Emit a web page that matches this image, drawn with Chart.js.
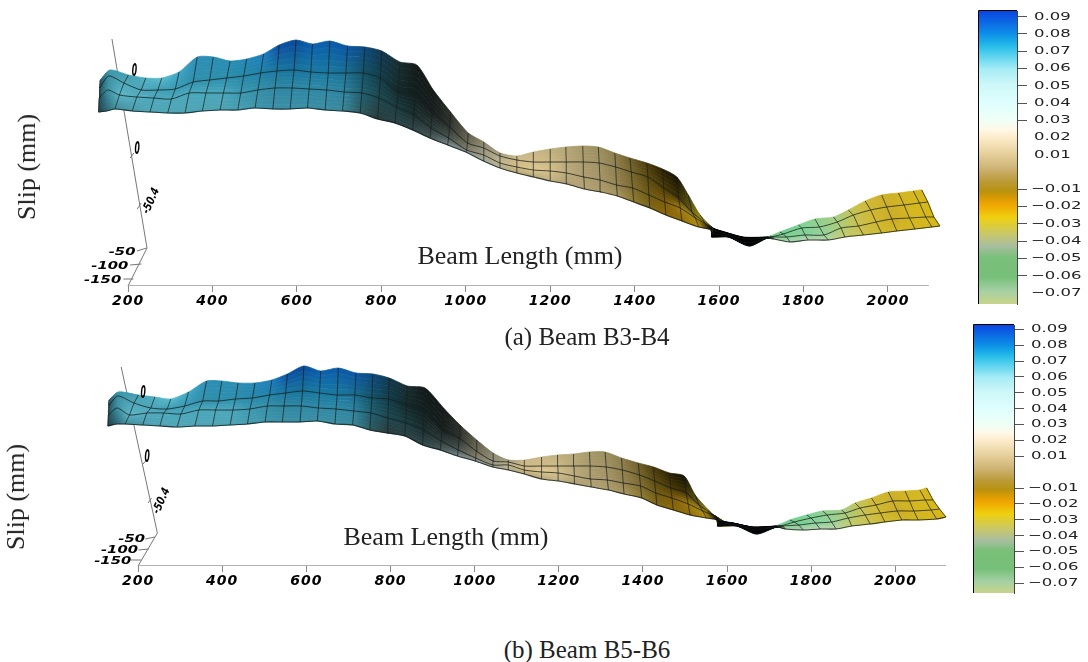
<!DOCTYPE html>
<html>
<head>
<meta charset="utf-8">
<script src="https://cdn.jsdelivr.net/npm/chart.js@4"></script>
<style>
  html, body { margin: 0; padding: 0; background: #fff; }
  body { position: relative; width: 1088px; height: 662px; overflow: hidden; }
  .box { position: absolute; }
  .label { position: absolute; font-family: "Liberation Serif", serif; color: #222; white-space: nowrap; transform: translate(-50%, -50%); }
  .slip { transform: translate(-50%, -50%) rotate(-90deg); }
</style>
</head>
<body>
<div class="box" style="left:0;top:0;width:960px;height:320px"><canvas id="surface-a"></canvas></div>
<div class="box" style="left:0;top:320px;width:960px;height:280px"><canvas id="surface-b"></canvas></div>
<div class="box" style="left:975px;top:0;width:113px;height:320px"><canvas id="bar-a"></canvas></div>
<div class="box" style="left:970px;top:320px;width:118px;height:280px"><canvas id="bar-b"></canvas></div>
<div class="label slip" style="left:27px;top:167px;font-size:26px">Slip (mm)</div>
<div class="label slip" style="left:16px;top:497px;font-size:26px">Slip (mm)</div>
<div class="label" style="left:520px;top:256px;font-size:26px">Beam Length (mm)</div>
<div class="label" style="left:446px;top:537px;font-size:26px">Beam Length (mm)</div>
<div class="label" style="left:587px;top:337px;font-size:25px">(a) Beam B3-B4</div>
<div class="label" style="left:587px;top:650px;font-size:25px">(b) Beam B5-B6</div>
<script>
const xTicks = [200, 400, 600, 800, 1000, 1200, 1400, 1600, 1800, 2000]
const depthLabels = ["-50", "-100", "-150"]
const slipLabels = ["0", "0", "-50.4"]
const barTicks = [0.09, 0.08, 0.07, 0.06, 0.05, 0.04, 0.03, 0.02, 0.01, -0.01, -0.02, -0.03, -0.04, -0.05, -0.06, -0.07]
const barTicksUnmarkedA = [0.02, 0.01, -0.07]

// beam length at the near and far end of every mesh column, panel a
const nearA = [130,149,169,210,252,294,335,376,418,460,501,543,584,625,667,708,750,791,832,874,915,957,1000,1042,1081,1121,1160,1200,1239,1281,1320,1359,1398,1436,1474,1512,1552,1591,1582,1622,1672,1714,1729,1768,1811,1859,1898,1942,1985,2021,2064,2104,2123]
const farA = [134,157,201,242,280,321,364,402,442,481,521,558,598,637,678,720,761,801,844,884,923,964,1006,1043,1081,1121,1160,1200,1237,1277,1314,1353,1389,1429,1466,1500,1527,1555,1586,1614,1657,1713,1721,1744,1788,1827,1871,1906,1946,1985,2025,2060,2080]
// projected surface height along the four mesh rows, panel a
const bottomA = [174,175,177,175,174,173,173,175,176,176,178,177,177,178,176,175,173,167,163,156,148,141,134,125,118,113,109,105,102,97,94,90,84,78,71,65,59,55,49,49,40,48,47,44,46,46,49,51,53,55,57,59,60]
const lowA = [188,196,191,189,188,187,193,193,193,193,196,198,198,197,196,194,193,188,179,171,158,148,136,131,123,119,116,115,113,109,106,101,98,91,84,78,68,59,53,50,43,48,49,49,51,51,58,60,64,67,68,69,69]
const upA = [198,210,203,196,196,197,204,206,208,210,213,215,216,214,213,213,213,208,194,191,174,159,143,138,130,126,124,124,124,124,123,119,114,109,98,88,74,63,56,52,47,48,49,52,58,59,64,71,76,79,81,83,84]
const topA = [206,216,211,208,208,214,229,229,225,227,232,241,246,242,245,240,239,235,224,221,196,174,153,144,133,130,134,137,139,140,139,133,128,123,117,109,91,71,58,54,49,49,50,54,61,67,69,76,85,91,93,95,96]

// the same readings for panel b
const nearB = [128,149,169,211,252,293,335,377,419,460,502,543,585,626,668,710,751,792,834,876,918,959,1001,1043,1080,1118,1159,1199,1238,1277,1318,1355,1397,1433,1472,1512,1551,1591,1577,1623,1670,1718,1738,1781,1821,1859,1896,1940,1975,2015,2054,2098,2120]
const farB = [131,153,201,240,278,320,363,399,438,478,518,555,594,634,676,718,758,797,840,882,926,965,1005,1044,1080,1118,1159,1197,1235,1273,1310,1349,1389,1425,1463,1498,1524,1555,1579,1615,1662,1714,1722,1749,1789,1827,1872,1904,1943,1983,2023,2058,2074]
const bottomB = [140,142,142,141,140,139,140,140,141,142,144,144,144,145,142,141,136,133,130,121,116,110,105,99,96,92,87,85,82,79,76,72,68,61,56,51,48,45,40,40,32,39,37,36,37,37,40,42,44,46,46,47,49]
const lowB = [151,158,151,153,153,152,156,156,156,157,160,160,160,158,157,155,153,148,143,136,125,116,108,101,101,96,94,93,90,87,86,83,80,73,68,62,55,48,42,41,36,39,40,41,43,44,48,51,53,55,55,56,57]
const upB = [160,170,163,158,157,160,165,165,167,168,171,173,175,173,171,171,168,167,161,155,136,128,115,105,104,100,100,100,100,100,99,96,91,85,78,73,61,51,44,42,38,39,40,44,48,51,53,58,61,65,65,66,66]
const topB = [166,174,171,169,167,174,185,185,183,183,186,192,200,195,198,193,192,188,180,178,158,141,126,113,106,106,109,111,112,114,114,108,103,99,93,90,71,56,46,43,39,40,41,46,51,55,56,63,68,74,75,76,78]

// shaded surface colour per column, along the four mesh rows
const bottomColors = ["#1f3c46","#2f6573","#3f8a99","#4a9aaa","#50a5b5","#50a5b5","#50a5b5","#4ea3b3","#4ea3b3","#4a9fb0","#3f96ab","#3b8fa5","#3b8fa5","#3b8fa5","#3b8da2","#3a8799","#2f5a62","#2a3b3a","#2a4245","#2f4648","#465656","#76888a","#8a9a98","#a0a89a","#b0ad90","#b5a677","#b5a677","#c2b184","#ad9e72","#b2a274","#ac9a68","#a8965c","#8f7a30","#7e6614","#8a6608","#8e6a08","#b89010","#d4b020","#000000","#000000","#000000","#000000","#a5c8a0","#b5d0b0","#b9d4b2","#bcd3a0","#c4cc6c","#ccc24a","#cfb92f","#d3b622","#d3b51c","#d4b61a","#d6b818"]
const lowColors = ["#1a4a58","#3a8fa0","#5bb5c5","#52aec0","#4aa8bc","#4aa8bc","#4aa8bc","#4aa8bc","#4aa8bc","#3a98b0","#3490a8","#3088a2","#2e88a5","#2e88a5","#2e88a5","#2e84a0","#1f5f70","#1d4850","#1a3c40","#1a2e2e","#2a3a38","#46524e","#807c68","#a09a80","#c0b58c","#d3bc85","#dcc68c","#d4bf8a","#bcab7a","#ad9d70","#a59568","#958453","#7e6c30","#6e5a14","#7b5a06","#a07c10","#a0860e","#c8a81a","#000000","#000000","#000000","#000000","#8ad59a","#7ccf90","#84d098","#95d29b","#b0cb70","#c8c050","#d1b72c","#c9ab26","#d3b520","#d6b81a","#d6b81a"]
const upColors = ["#1a4a58","#3a8fa0","#4fa8ba","#4aa4b8","#3fa0b5","#3a9bb2","#2f90ac","#2f90ac","#2c8eab","#2688a8","#1f82a8","#1a78a0","#17739c","#1a7aa0","#1a7aa0","#1a6f90","#145468","#123e4a","#13292c","#111e1e","#161d1c","#2a302c","#6a6854","#94907a","#b0a888","#cdb986","#d2bd88","#ccb984","#b8a878","#aa9b6c","#a09264","#90804e","#76662c","#584810","#4a3a05","#3a2e05","#6c6010","#b49a18","#000000","#000000","#000000","#000000","#80d294","#76ce8e","#7ed295","#90d092","#a8cc7c","#c4c254","#d0b830","#cbae28","#d3b520","#d5b81c","#d5b71a"]
const topColors = ["#26586a","#339ab0","#3f99ad","#4eb0c0","#5cc0d0","#40a8c8","#2e8fb8","#2c8eb4","#2a8eb4","#2488b8","#1f7fc0","#0a4fa5","#0a4a9a","#0a62b0","#0a5aa8","#0a55a5","#0d4a80","#11384f","#1a2e30","#141a1a","#141a18","#2a2e28","#5e5a48","#8c8468","#a09474","#c9b88a","#c8b585","#bfae7e","#b4a678","#a69968","#9c8f60","#8c7d4a","#6e5e2a","#4a3a0a","#2a2004","#141002","#40400c","#a08c18","#000000","#000000","#000000","#000000","#78d090","#72cd8e","#78d393","#8dcf8a","#a0cc88","#c0c458","#d0b938","#ccb02a","#d2b522","#d4b720","#d4b61c"]

const barStopValues = [0.0929,0.08,0.0742,0.0703,0.0597,0.051,0.0394,0.0297,0.0249,0.02,0.0104,0.0027,-0.005,-0.0109,-0.0147,-0.0186,-0.0263,-0.036,-0.0428,-0.0495,-0.0611,-0.0688,-0.0765]
const barStopColors = ["#0a46e0","#0d8fe8","#1fb5e8","#3fc8ec","#a5ecf5","#ccf7f8","#e0ffff","#f0fff5","#fff8e8","#fdeccb","#e5cf9a","#cfb577","#bb9b3b","#b8920f","#d69a05","#f0a500","#efd010","#c8c86a","#a9bea0","#79c07a","#77c07a","#a5d0a5","#c8d488"]

const depths = [0, 1 / 3, 2 / 3, 1]
const blackColumns = [38, 39, 40, 41]
const skippedColumns = [1, 38, 39, 40, 41]
// each mesh strip is painted in this many slices so the shading runs smoothly across it
const shadeSteps = 5
const rowTension = 0.25

function rowPoints(near, far, ys, depth) {
  return ys.map((y, i) => ({ x: near[i] + (far[i] - near[i]) * depth, y }))
}

function mix(a, b, t) {
  const out = [1, 3, 5].map(i => {
    const from = parseInt(a.substr(i, 2), 16)
    const to = parseInt(b.substr(i, 2), 16)
    return Math.round(from + (to - from) * t)
  })
  return `rgb(${out.join(",")})`
}

function sliceGradient(chart, colors, points) {
  const scale = chart.scales.x
  if (!scale || !Number.isFinite(scale.left) || !Number.isFinite(scale.right)) return "#888"
  const gradient = chart.ctx.createLinearGradient(scale.left, 0, scale.right, 0)
  colors.forEach((c, i) => {
    const pos = (points[i].x - scale.min) / (scale.max - scale.min)
    gradient.addColorStop(Math.min(1, Math.max(0, pos)), c)
  })
  return gradient
}

function lineSet(data, color, width, tension = 0) {
  return { data, showLine: true, fill: false, borderColor: color, borderWidth: width, pointRadius: 0, tension }
}

// text on the 3d axes, squeezed and turned the way the projection left it
const axisText = {
  id: "axisText",
  beforeDraw(chart) { chart.ctx.letterSpacing = "1px" },
  afterDatasetsDraw(chart, args, opts) {
    const ctx = chart.ctx
    const { x, y } = chart.scales
    ctx.save()
    ctx.letterSpacing = "0px"
    ctx.fillStyle = "#000"
    ctx.textAlign = "center"
    ctx.textBaseline = "middle"
    ctx.font = "italic bold 11px 'DejaVu Sans'"
    depthLabels.forEach((t, i) => {
      ctx.save()
      ctx.translate(x.getPixelForValue(opts.depthX[i]), y.getPixelForValue(opts.depthY[i]))
      ctx.scale(1.35, 0.95)
      ctx.fillText(t, 0, 0)
      ctx.restore()
    })
    slipLabels.forEach((t, i) => {
      ctx.save()
      ctx.translate(x.getPixelForValue(opts.slipX[i]), y.getPixelForValue(opts.slipY[i]))
      if (i < 2) {
        ctx.scale(0.7, 1.6)
      } else {
        ctx.rotate(-1.15)
        ctx.scale(0.85, 1.05)
      }
      ctx.fillText(t, 0, 0)
      ctx.restore()
    })
    ctx.restore()
  }
}

function surface(id, p) {
  const rows = depths.map((d, r) => rowPoints(p.near, p.far, p.rows[r], d))
  const rowColors = [bottomColors, lowColors, upColors, topColors]

  const crossLines = []
  p.near.forEach((_, i) => {
    if (skippedColumns.includes(i)) return
    rows.forEach(row => crossLines.push(row[i]))
    crossLines.push({ x: NaN, y: NaN })
  })

  const shadeSets = []
  for (let s = 0; s < rows.length - 1; s++) {
    for (let k = 0; k < shadeSteps; k++) {
      const edge = t => rows[s].map((pt, i) => ({
        x: pt.x + (rows[s + 1][i].x - pt.x) * t,
        y: pt.y + (rows[s + 1][i].y - pt.y) * t
      }))
      const lower = edge(k / shadeSteps)
      const upper = edge((k + 1) / shadeSteps)
      const t = (k + 0.5) / shadeSteps
      const colors = rowColors[s].map((c, i) => mix(c, rowColors[s + 1][i], t))
      const paint = ctx => sliceGradient(ctx.chart, colors, lower)
      shadeSets.push({
        data: lower.concat(upper.slice().reverse()),
        showLine: true,
        fill: "shape",
        borderWidth: 0.8,
        pointRadius: 0,
        tension: rowTension,
        borderColor: paint,
        backgroundColor: paint
      })
    }
  }

  const blackData = blackColumns.map(i => rows[0][i]).concat(blackColumns.map(i => rows[3][i]).reverse())

  return new Chart(document.getElementById(id), {
    type: "scatter",
    data: {
      datasets: [
        lineSet(rows[0], "rgba(10,20,20,0.75)", 1.1, rowTension),
        lineSet(rows[1], "rgba(20,25,25,0.75)", 1, rowTension),
        lineSet(rows[2], "rgba(20,25,25,0.75)", 1, rowTension),
        lineSet(crossLines, "rgba(25,30,30,0.7)", 1),
        { data: blackData, showLine: true, fill: "shape", borderWidth: 0, pointRadius: 0, backgroundColor: "#000" },
        ...shadeSets,
        lineSet(p.baseAxis, "#999", 1.5),
        lineSet(p.slipAxis, "#777", 1),
        lineSet(p.depthAxis, "#777", 1),
        ...p.depthTicks.map(t => lineSet(t, "#777", 1))
      ]
    },
    options: {
      responsive: true,
      maintainAspectRatio: false,
      animation: false,
      events: [],
      layout: { padding: 0 },
      plugins: {
        legend: { display: false },
        tooltip: { enabled: false },
        axisText: p.text
      },
      scales: {
        x: {
          type: "linear",
          min: p.xMin,
          max: p.xMax,
          border: { display: false },
          grid: { drawOnChartArea: false, drawTicks: true, tickLength: 6, color: "#888" },
          ticks: {
            autoSkip: false,
            maxRotation: 0,
            padding: 1,
            color: "#000",
            font: { family: "DejaVu Sans", size: 14, weight: "bold", style: "italic" },
            callback: v => String(v)
          },
          afterBuildTicks: s => { s.ticks = xTicks.map(value => ({ value })) },
          afterFit: s => { s.height = 34 }
        },
        y: { type: "linear", min: 0, max: p.yMax, display: false }
      }
    },
    plugins: [axisText]
  })
}

function colorBar(id, p) {
  return new Chart(document.getElementById(id), {
    type: "bar",
    data: {
      labels: [""],
      datasets: [{
        data: [[p.yMin, p.yMax]],
        barPercentage: 1,
        categoryPercentage: 1,
        backgroundColor: ctx => {
          const scale = ctx.chart.scales.y
          if (!scale || !Number.isFinite(scale.top) || !Number.isFinite(scale.bottom)) return "#888"
          const gradient = ctx.chart.ctx.createLinearGradient(0, scale.top, 0, scale.bottom)
          barStopValues.forEach((v, i) => {
            const pos = (p.yMax - v) / (p.yMax - p.yMin)
            gradient.addColorStop(Math.min(1, Math.max(0, pos)), barStopColors[i])
          })
          return gradient
        }
      }]
    },
    options: {
      responsive: true,
      maintainAspectRatio: false,
      animation: false,
      events: [],
      layout: { padding: p.padding },
      plugins: { legend: { display: false }, tooltip: { enabled: false } },
      scales: {
        x: { display: false },
        y: {
          position: "right",
          min: p.yMin,
          max: p.yMax,
          border: { display: true, color: "#444", width: 1 },
          grid: {
            drawOnChartArea: false,
            tickLength: 10,
            color: ctx => (p.unmarked.includes(ctx.tick && ctx.tick.value) ? "rgba(0,0,0,0)" : "#555")
          },
          ticks: { display: false },
          afterBuildTicks: s => { s.ticks = barTicks.map(value => ({ value })) },
          afterFit: s => { s.width = p.axisWidth }
        }
      }
    },
    plugins: [{
      id: "barFrame",
      afterDraw(chart) {
        const { left, right, top, bottom } = chart.chartArea
        const ctx = chart.ctx
        const scale = chart.scales.y
        ctx.save()
        ctx.strokeStyle = "#000"
        ctx.beginPath()
        ctx.moveTo(right, top - 0.5)
        ctx.lineTo(left - 0.5, top - 0.5)
        ctx.lineTo(left - 0.5, bottom)
        ctx.stroke()
        // the tick labels of the original are stretched sideways
        ctx.fillStyle = "#222"
        ctx.font = "11px 'DejaVu Sans'"
        ctx.textAlign = "left"
        ctx.textBaseline = "middle"
        barTicks.forEach(v => {
          ctx.save()
          ctx.translate(right + (v < 0 ? p.labelGap - 3 : p.labelGap), scale.getPixelForValue(v))
          ctx.scale(1.5, 1)
          ctx.fillText(v.toFixed(2).replace("-", "\u2212"), 0, 0)
          ctx.restore()
        })
        ctx.restore()
      }
    }]
  })
}

surface("surface-a", {
  near: nearA,
  far: farA,
  rows: [bottomA, lowA, upA, topA],
  xMin: -103.2,
  xMax: 2170.6,
  yMax: 286,
  baseAxis: [{ x: 200, y: 0 }, { x: 2097, y: 0 }],
  slipAxis: [{ x: 162, y: 247 }, { x: 245, y: 38 }],
  depthAxis: [{ x: 245, y: 38 }, { x: 200, y: 0 }],
  depthTicks: [
    [{ x: 244, y: 38 }, { x: 221, y: 35 }],
    [{ x: 232, y: 22 }, { x: 205, y: 21 }],
    [{ x: 213, y: 7 }, { x: 189, y: 7 }],
    [{ x: 205, y: 128 }, { x: 214, y: 133 }],
    [{ x: 222, y: 77 }, { x: 231, y: 83 }]
  ],
  text: {
    depthX: [186, 157, 140],
    depthY: [34, 20, 6],
    slipX: [215, 222, 255],
    slipY: [215, 137, 85]
  }
})

surface("surface-b", {
  near: nearB,
  far: farB,
  rows: [bottomB, lowB, upB, topB],
  xMin: -128,
  xMax: 2153.4,
  yMax: 246,
  baseAxis: [{ x: 200, y: 0 }, { x: 2120, y: 0 }],
  slipAxis: [{ x: 160, y: 199 }, { x: 246, y: 33 }],
  depthAxis: [{ x: 246, y: 33 }, { x: 200, y: 0 }],
  depthTicks: [
    [{ x: 240, y: 29 }, { x: 217, y: 27 }],
    [{ x: 226, y: 17 }, { x: 201, y: 16 }],
    [{ x: 207, y: 6 }, { x: 183, y: 6 }],
    [{ x: 212, y: 102 }, { x: 220, y: 106 }],
    [{ x: 224, y: 63 }, { x: 232, y: 68 }]
  ],
  text: {
    depthX: [185, 156, 140],
    depthY: [27, 16, 5],
    slipX: [212, 222, 256],
    slipY: [173, 109, 65]
  }
})

colorBar("bar-a", { yMin: -0.0764, yMax: 0.0933, padding: { left: 4, top: 11, bottom: 16 }, axisWidth: 71, labelGap: 17, unmarked: barTicksUnmarkedA })
colorBar("bar-b", { yMin: -0.0761, yMax: 0.0927, padding: { left: 4, top: 5, bottom: 7 }, axisWidth: 74, labelGap: 17, unmarked: [] })
</script>
</body>
</html>
